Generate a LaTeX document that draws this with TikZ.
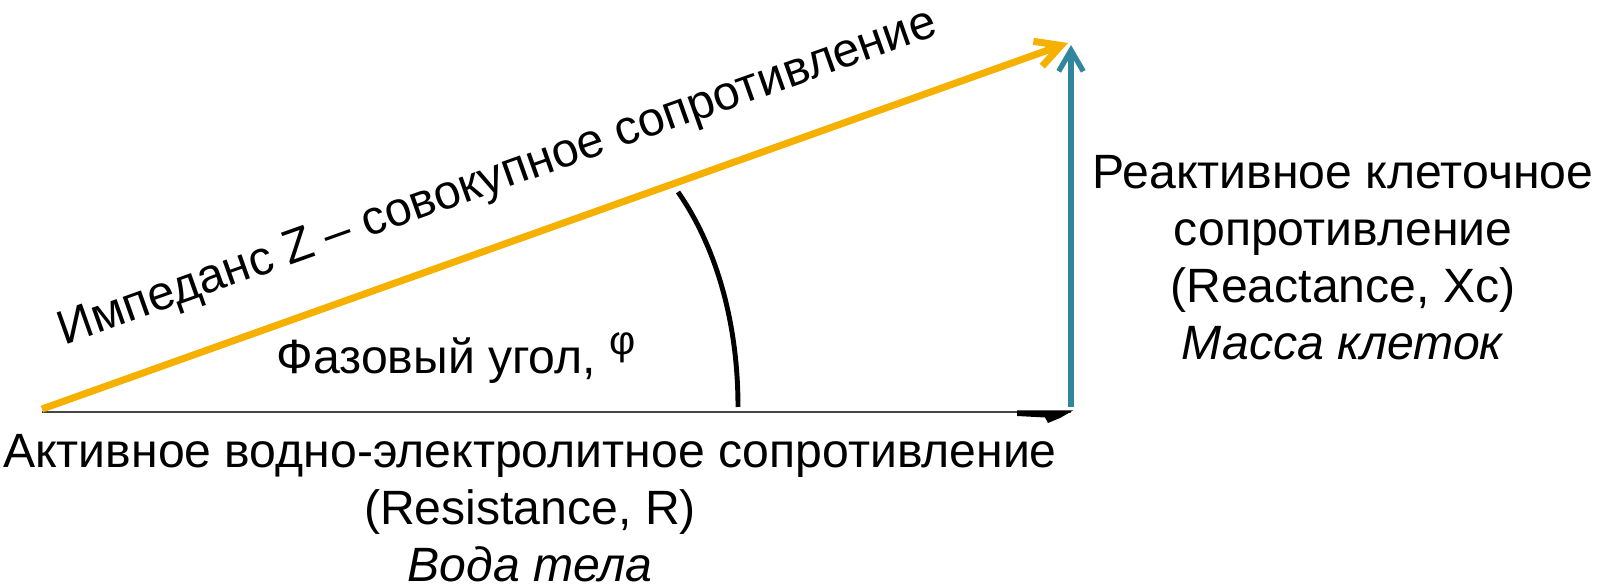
\documentclass[tikz,border=0pt]{standalone}
\usepackage{fontspec}
\setmainfont{Liberation Sans}
\usetikzlibrary{arrows.meta}

\definecolor{impgold}{RGB}{245,176,0}
\definecolor{reactteal}{RGB}{49,133,156}
\definecolor{axisgray}{RGB}{70,70,70}

\tikzset{
    lbl/.style={font=\fontsize{13.7}{16.2}\selectfont, align=center, inner sep=0pt},
}

\begin{document}
\begin{tikzpicture}[x=0.1mm, y=-0.1mm]
    \useasboundingbox (0,0) rectangle (1614,586);

    % corners of the triangle
    \coordinate (orig) at (42,409);
    \coordinate (rend) at (1071,412);
    \coordinate (xcbase) at (1071,407);
    \coordinate (ztip) at (1068,43);
    \coordinate (xctip) at (1071,45);

    % Resistance axis
    \draw[axisgray, line width=0.6pt] (orig |- rend) -- (rend);
    \fill (1017,410.5) -- (1073,410.5) -- (1060,418) -- (1048,423) -- (1045,417.5) -- (1017,416) -- cycle;

    % Reactance
    \draw[reactteal, line width=1.5pt, -{Straight Barb[length=6pt, width=7pt]}] (xcbase) -- (xctip);

    % Impedance
    \draw[impgold, line width=2pt, -{Straight Barb[length=7pt, width=7.5pt]}] (orig) -- (ztip);

    % phase angle
    \draw[line width=1.4pt] (678,192) .. controls (715,245) and (738,320) .. (738,407);

    % labels
    \node[lbl, rotate=19.55, anchor=base] (zlabel) at (502,190)
        {Импеданс Z – совокупное сопротивление};
    \node[lbl, anchor=base west] (philabel) at (276,374)
        {Фазовый угол, \raisebox{0.4em}{\fontsize{11.5}{11.5}\selectfont φ}};
    \node[lbl] (rlabel) at (530,508)
        {Активное водно-электролитное сопротивление\\(Resistance, R)\\\textit{Вода тела}};
    \node[lbl] (xclabel) at (1343,258)
        {Реактивное клеточное\\сопротивление\\(Reactance, Xc)\\\textit{Масса клеток}};
\end{tikzpicture}
\end{document}
